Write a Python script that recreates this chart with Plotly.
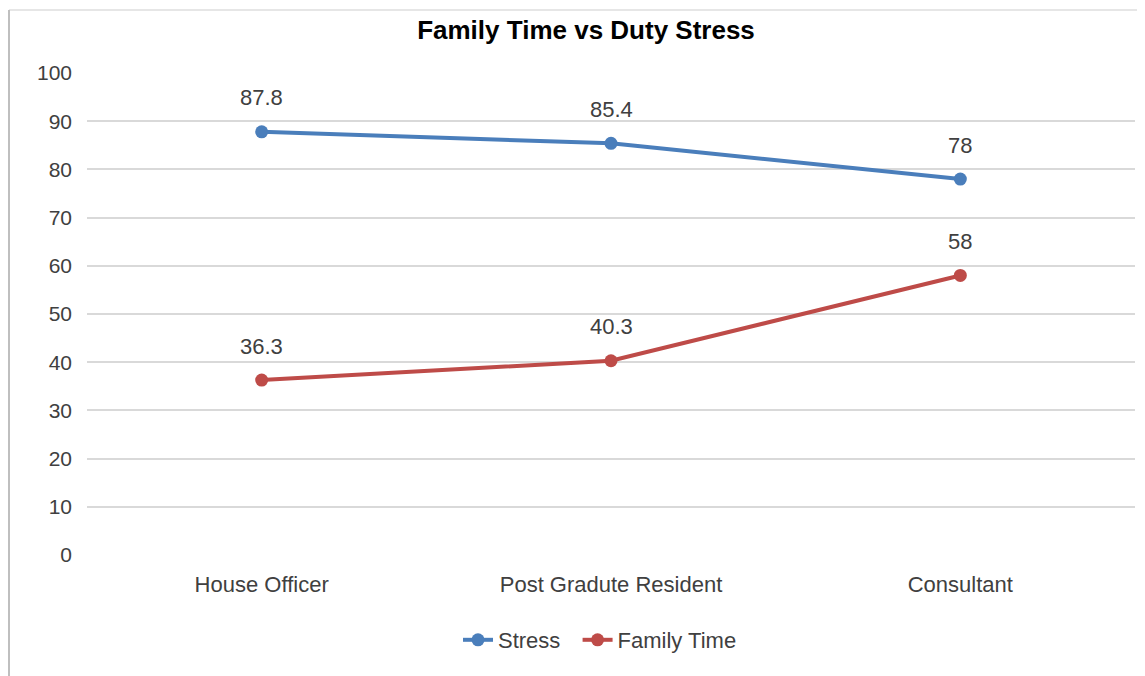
import plotly.graph_objects as go

categories = ["House Officer", "Post Gradute Resident", "Consultant"]
stress = [87.8, 85.4, 78]
family_time = [36.3, 40.3, 58]
y_ticks = [0, 10, 20, 30, 40, 50, 60, 70, 80, 90, 100]

FONT = "Liberation Sans, Arial, sans-serif"
TXT = "#404040"
BLUE = "#4A7EBB"
RED = "#BE4B48"

# page body has an 8px default margin; figure sized to fit the window
W, H = 1137, 668
L, R, T, B = 79, 10, 65, 121
PW, PH = W - L - R, H - T - B

fig = go.Figure()
fig.add_trace(go.Scatter(
    x=categories, y=stress, name="Stress\u00a0\u00a0", mode="lines+markers",
    line=dict(color=BLUE, width=4), marker=dict(size=13, color=BLUE), cliponaxis=False))
fig.add_trace(go.Scatter(
    x=categories, y=family_time, name="Family Time", mode="lines+markers",
    line=dict(color=RED, width=4), marker=dict(size=13, color=RED), cliponaxis=False))

annotations = []
for series in (stress, family_time):
    for c, v in zip(categories, series):
        annotations.append(dict(x=c, y=v, xref="x", yref="y", text=str(v), showarrow=False,
                                yshift=34, yanchor="middle",
                                font=dict(size=22, color=TXT, family=FONT)))

fig.update_layout(
    width=W, height=H,
    margin=dict(l=L, r=R, t=T, b=B),
    paper_bgcolor="white", plot_bgcolor="white",
    font=dict(family=FONT, color=TXT, size=22),
    title=dict(text="<b>Family Time vs Duty Stress</b>", x=(586 - 8) / W, xanchor="center",
               y=1 - 22 / H, yanchor="middle",
               font=dict(size=26, color="#000000", family=FONT)),
    showlegend=True,
    legend=dict(orientation="h", x=(600 - 87) / PW, xanchor="center",
                y=(547 - 632) / PH, yanchor="middle",
                font=dict(size=22, color=TXT, family=FONT), itemwidth=30,
                traceorder="normal"),
    xaxis=dict(type="category", range=[-0.5, 2.5], showgrid=False, zeroline=False,
               showline=False, ticks="", ticklabelstandoff=14,
               tickfont=dict(size=22, color=TXT, family=FONT)),
    yaxis=dict(range=[0, 100], tickvals=y_ticks, showgrid=True, gridcolor="#D9D9D9",
               gridwidth=2, zeroline=False, showline=False, ticks="",
               ticklabelstandoff=14, tickfont=dict(size=21, color=TXT, family=FONT)),
    annotations=annotations,
    shapes=[
        dict(type="line", xref="paper", yref="paper", x0=(1 - L) / PW, x1=(W - L) / PW,
             y0=(H - B - 2) / PH, y1=(H - B - 2) / PH, line=dict(color="#E6E6E6", width=2)),
        dict(type="line", xref="paper", yref="paper", x0=(1 - L) / PW, x1=(1 - L) / PW,
             y0=(H - B - 2) / PH, y1=-B / PH, line=dict(color="#BFBFBF", width=2)),
    ],
)

fig.write_html("out.html")
